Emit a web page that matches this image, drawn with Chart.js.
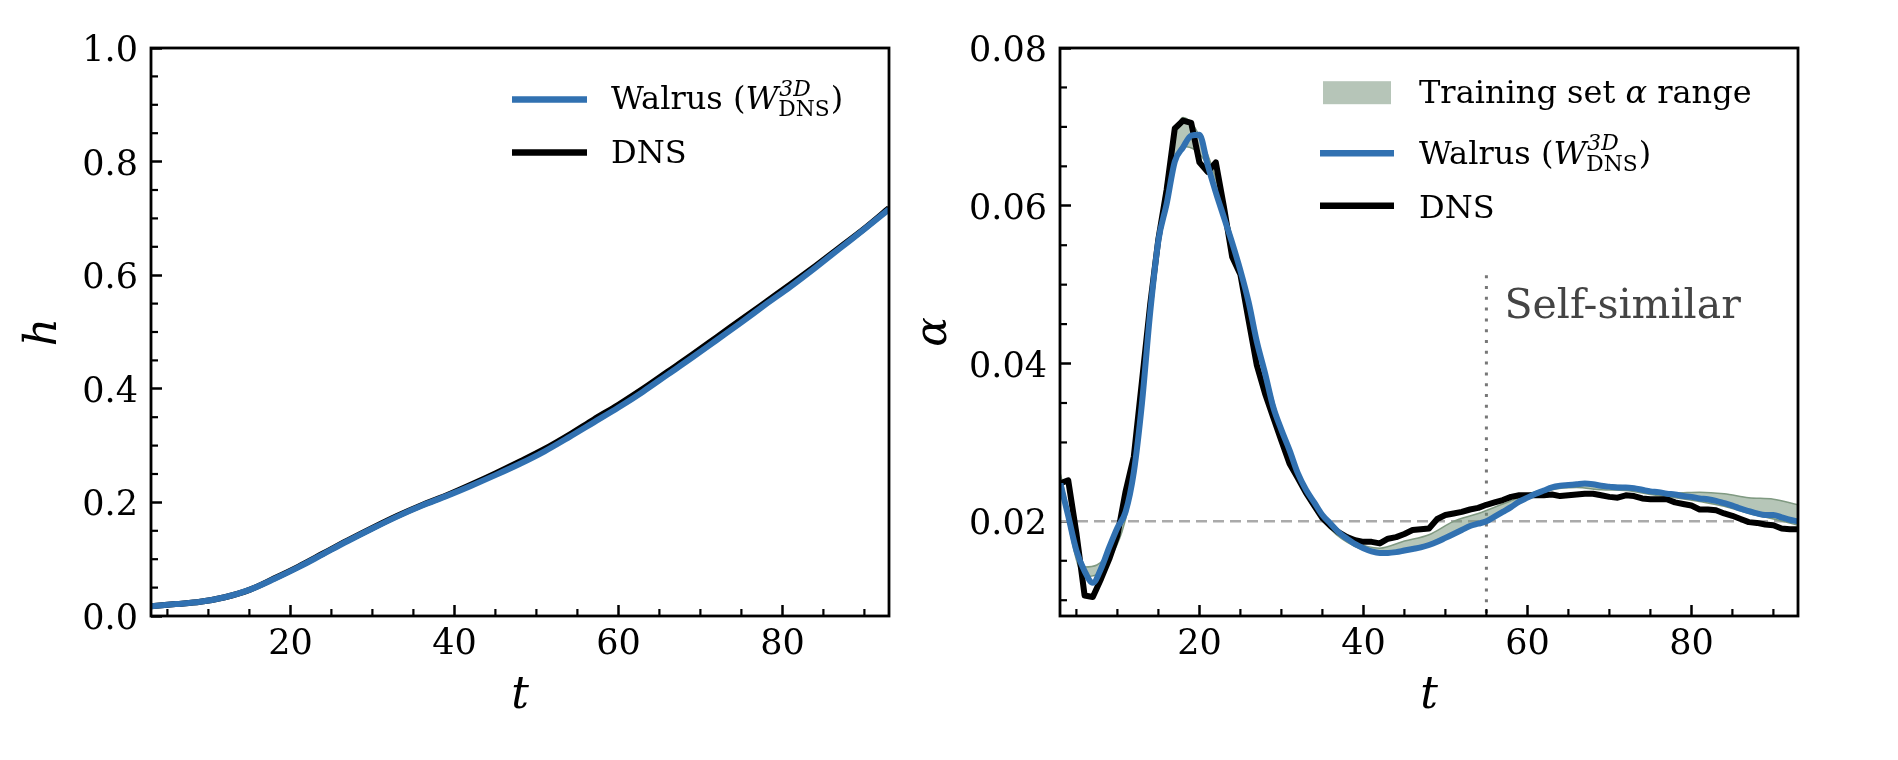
<!DOCTYPE html>
<html><head><meta charset="utf-8">
<script src="https://cdn.jsdelivr.net/npm/chart.js@4.4.1/dist/chart.umd.min.js"></script>
<style>
html,body{margin:0;padding:0;background:#fff;}
body{width:1898px;height:760px;position:relative;overflow:hidden;}
canvas{position:absolute;top:0;}
#cH{left:0;}
#cA{left:880px;}
</style></head><body>
<canvas id="cH" width="940" height="760"></canvas>
<canvas id="cA" width="1018" height="760"></canvas>
<script>
// ---------- data ----------
const tH = [3,6,9,12,15,18,21,24,27,30,33,36,39,42,45,48,51,54,57,60,63,66,69,72,75,78,81,84,87,90,93];
const hWalrus = [0.017,0.021,0.025,0.033,0.046,0.065,0.086,0.109,0.132,0.154,0.175,0.194,0.211,0.229,0.248,0.268,0.290,0.315,0.341,0.367,0.395,0.425,0.455,0.486,0.517,0.549,0.580,0.613,0.647,0.681,0.716];
const hDNS    = [0.017,0.021,0.025,0.033,0.046,0.066,0.087,0.110,0.133,0.155,0.176,0.195,0.212,0.231,0.251,0.272,0.294,0.319,0.346,0.372,0.400,0.430,0.460,0.491,0.522,0.553,0.584,0.616,0.649,0.682,0.718];

const tA = [3,4,5,6,7,8,9,10,11,12,13,14,15,16,17,18,19,20,21,22,23,24,25,26,27,28,29,30,31,32,33,34,35,36,37,38,39,40,41,42,43,44,45,46,47,48,49,50,51,52,53,54,55,56,57,58,59,60,61,62,63,64,65,66,67,68,69,70,71,72,73,74,75,76,77,78,79,80,81,82,83,84,85,86,87,88,89,90,91,92,93];
const alphaDNS = [0.0248,0.0252,0.0185,0.0106,0.0104,0.0127,0.0152,0.0182,0.0238,0.0282,0.0378,0.0475,0.0558,0.0620,0.0698,0.0708,0.0705,0.0655,0.0643,0.0655,0.0598,0.0535,0.0513,0.0455,0.0398,0.0362,0.0332,0.0302,0.0273,0.0255,0.0236,0.0220,0.0204,0.0194,0.0186,0.0180,0.0176,0.0174,0.0174,0.0172,0.0178,0.0180,0.0184,0.0189,0.0190,0.0191,0.0203,0.0208,0.0210,0.0212,0.0215,0.0217,0.0221,0.0224,0.0227,0.0231,0.0233,0.0233,0.0233,0.0233,0.0234,0.0232,0.0233,0.0234,0.0235,0.0235,0.0233,0.0231,0.0230,0.0233,0.0232,0.0229,0.0228,0.0228,0.0228,0.0224,0.0222,0.0220,0.0215,0.0215,0.0214,0.0210,0.0207,0.0203,0.0199,0.0198,0.0196,0.0195,0.0191,0.0190,0.0190];
const alphaWalrus = [0.0250,0.0207,0.0163,0.0137,0.0122,0.0140,0.0167,0.0192,0.0212,0.0262,0.0350,0.0465,0.0556,0.0602,0.0656,0.0674,0.0689,0.0690,0.0652,0.0617,0.0585,0.0553,0.0518,0.0478,0.0428,0.0388,0.0345,0.0316,0.0290,0.0261,0.0240,0.0224,0.0208,0.0197,0.0186,0.0178,0.0171,0.0166,0.0162,0.0160,0.0160,0.0161,0.0163,0.0165,0.0167,0.0170,0.0174,0.0179,0.0184,0.0189,0.0194,0.0197,0.0200,0.0206,0.0212,0.0218,0.0225,0.0230,0.0235,0.0239,0.0243,0.0245,0.0246,0.0247,0.0248,0.0247,0.0245,0.0244,0.0243,0.0243,0.0242,0.0240,0.0238,0.0237,0.0235,0.0234,0.0232,0.0231,0.0229,0.0228,0.0226,0.0223,0.0220,0.0216,0.0213,0.0210,0.0208,0.0208,0.0205,0.0202,0.0200];

const tBand = [3,6,9,12,15,18,21,24,27,30,33,36,39,42,45,48,51,54,57,60,63,66,69,72,75,78,81,84,87,90,93];
const bandLow  = [0.0245,0.0130,0.0150,0.0255,0.0550,0.0675,0.0650,0.0548,0.0420,0.0305,0.0234,0.0190,0.0168,0.0160,0.0165,0.0172,0.0186,0.0198,0.0212,0.0228,0.0240,0.0243,0.0240,0.0239,0.0234,0.0230,0.0225,0.0219,0.0210,0.0203,0.0195];
const bandHigh = [0.0262,0.0142,0.0163,0.0275,0.0565,0.0712,0.0665,0.0560,0.0435,0.0318,0.0242,0.0196,0.0174,0.0166,0.0175,0.0183,0.0200,0.0210,0.0222,0.0234,0.0244,0.0247,0.0246,0.0245,0.0240,0.0236,0.0237,0.0235,0.0230,0.0228,0.0221];

const tTicks = [20,40,60,80];
const tMinor = [5,10,15,25,30,35,45,50,55,65,70,75,85,90];
const hTicks = [0.0,0.2,0.4,0.6,0.8,1.0];
const hMinor = [0.05,0.1,0.15,0.25,0.3,0.35,0.45,0.5,0.55,0.65,0.7,0.75,0.85,0.9,0.95];
const alphaTicks = [0.02,0.04,0.06,0.08];
const alphaMinor = [0.01,0.015,0.025,0.03,0.035,0.045,0.05,0.055,0.065,0.07,0.075];
const refAlpha = 0.02;
const selfSimilarT = 55;
const selfSimilarLabel = 'Self-similar';

// ---------- helpers ----------
const FF = '"DejaVu Serif", "Liberation Serif", serif';
const BLUE = '#3171b1';
const pts = (xs, ys) => xs.map((x, i) => ({x, y: ys[i]}));

function xAxis() {
  return {
    type: 'linear', min: 3, max: 93,
    afterBuildTicks: s => { s.ticks = tTicks.map(v => ({value: v})); },
    afterFit: s => { s.height = 144; },
    grid: {display: true, drawOnChartArea: false, drawTicks: true, tickLength: -11, tickWidth: 2.5, tickColor: '#000', color: 'rgba(0,0,0,0)'},
    border: {display: false},
    ticks: {padding: 19, color: '#000', font: {family: FF, size: 35}, maxRotation: 0, autoSkip: false, callback: v => String(v)},
    title: {display: true, text: 't', color: '#000', font: {family: FF, size: 44, style: 'italic'}, padding: {top: 0, bottom: 37}}
  };
}
function yAxis(min, max, ticks, width, dec, label, titlePad) {
  return {
    type: 'linear', min, max,
    afterBuildTicks: s => { s.ticks = ticks.map(v => ({value: v})); },
    afterFit: s => { s.width = width; },
    grid: {display: true, drawOnChartArea: false, drawTicks: true, tickLength: -11, tickWidth: 2.5, tickColor: '#000', color: 'rgba(0,0,0,0)'},
    border: {display: false},
    ticks: {padding: 24, color: '#000', font: {family: FF, size: 35}, autoSkip: false, labelOffset: 4, callback: v => Number(v).toFixed(dec)},
    title: {display: true, text: label, color: '#000', font: {family: FF, size: 44, style: 'italic'}, padding: {top: titlePad, bottom: 0}}
  };
}

function drawLabel(ctx, key, x, y, fs) {
  ctx.textAlign = 'left'; ctx.textBaseline = 'alphabetic'; ctx.fillStyle = '#000';
  const R = `${fs}px ${FF}`, I = `italic ${fs}px ${FF}`;
  if (key === 'walrus') {
    ctx.font = R; ctx.fillText('Walrus (', x, y); x += ctx.measureText('Walrus (').width;
    ctx.font = I; ctx.fillText('W', x, y); x += ctx.measureText('W').width;
    const ss = fs * 0.68;
    ctx.font = `italic ${ss}px ${FF}`; ctx.fillText('3D', x + 1, y - fs * 0.42); const w1 = ctx.measureText('3D').width + 1;
    ctx.font = `${ss}px ${FF}`; ctx.fillText('DNS', x, y + fs * 0.23); const w2 = ctx.measureText('DNS').width;
    x += Math.max(w1, w2) + 1;
    ctx.font = R; ctx.fillText(')', x, y);
  } else if (key === 'band') {
    ctx.font = R; ctx.fillText('Training set ', x, y); x += ctx.measureText('Training set ').width;
    ctx.font = I; ctx.fillText('α', x, y); x += ctx.measureText('α').width;
    ctx.font = R; ctx.fillText(' range', x, y);
  } else {
    ctx.font = R; ctx.fillText('DNS', x, y);
  }
}

const mplDecor = {
  id: 'mplDecor',
  afterDraw(chart, args, o) {
    const {ctx, chartArea: a, scales: {x, y}} = chart;
    ctx.save();
    // minor ticks (inward)
    ctx.strokeStyle = '#000'; ctx.lineWidth = 2.2; ctx.lineCap = 'butt';
    o.xMinor.forEach(v => { const p = x.getPixelForValue(v); ctx.beginPath(); ctx.moveTo(p, a.bottom); ctx.lineTo(p, a.bottom - 7); ctx.stroke(); });
    o.yMinor.forEach(v => { const p = y.getPixelForValue(v); ctx.beginPath(); ctx.moveTo(a.left, p); ctx.lineTo(a.left + 7, p); ctx.stroke(); });
    // frame
    ctx.lineWidth = 2.8; ctx.strokeRect(a.left, a.top, a.right - a.left, a.bottom - a.top);
    // annotation
    if (o.note) {
      ctx.fillStyle = '#444'; ctx.font = `41px ${FF}`; ctx.textAlign = 'left'; ctx.textBaseline = 'alphabetic';
      ctx.fillText(o.note.text, x.getPixelForValue(o.note.t), y.getPixelForValue(o.note.v));
    }
    // legend
    const L = o.legend;
    L.rows.forEach(r => {
      if (r.kind === 'patch') { ctx.fillStyle = r.color; ctx.fillRect(L.x1 + 3, r.y - 11.5, L.x2 - L.x1 - 6, 23); }
      else { ctx.strokeStyle = r.color; ctx.lineWidth = 6.5; ctx.beginPath(); ctx.moveTo(L.x1, r.y); ctx.lineTo(L.x2, r.y); ctx.stroke(); }
      drawLabel(ctx, r.key, L.tx, r.base, 32);
    });
    ctx.restore();
  }
};

const common = {
  responsive: false, animation: false, devicePixelRatio: 1,
  elements: {point: {radius: 0}},
};

// ---------- left chart: h ----------
new Chart(document.getElementById('cH'), {
  type: 'line',
  data: {datasets: [
    {label: 'Walrus', data: pts(tH, hWalrus), borderColor: BLUE, borderWidth: 6, cubicInterpolationMode: 'monotone', order: 0, clip: 0, borderJoinStyle: 'round'},
    {label: 'DNS', data: pts(tH, hDNS), borderColor: '#000', borderWidth: 6, cubicInterpolationMode: 'monotone', order: 1, clip: 0, borderJoinStyle: 'round'}
  ]},
  options: Object.assign({}, common, {
    layout: {padding: {top: 48, right: 51, left: 0, bottom: 0}},
    scales: {x: xAxis(), y: yAxis(0, 1, hTicks, 151, 1, 'h', 18.6)},
    plugins: {legend: {display: false}, tooltip: {enabled: false},
      mplDecor: {xMinor: tMinor, yMinor: hMinor,
        legend: {x1: 512, x2: 587, tx: 611, rows: [
          {kind: 'line', color: BLUE, y: 99.5, base: 109, key: 'walrus'},
          {kind: 'line', color: '#000', y: 152.5, base: 163.3, key: 'dns'}]}}}
  }),
  plugins: [mplDecor]
});

// ---------- right chart: alpha ----------
new Chart(document.getElementById('cA'), {
  type: 'line',
  data: {datasets: [
    {label: 'Walrus', data: pts(tA, alphaWalrus), borderColor: BLUE, borderWidth: 6, cubicInterpolationMode: 'monotone', order: 0, clip: 0, borderJoinStyle: 'round'},
    {label: 'DNS', data: pts(tA, alphaDNS), borderColor: '#000', borderWidth: 6, tension: 0, order: 1, clip: 0, borderJoinStyle: 'round'},
    {label: 'bandLow', data: pts(tBand, bandLow), borderColor: '#809a82', borderWidth: 1.5, cubicInterpolationMode: 'monotone', fill: false, order: 3, clip: 0},
    {label: 'Training set α range', data: pts(tBand, bandHigh), borderColor: '#809a82', borderWidth: 1.5, cubicInterpolationMode: 'monotone', fill: '-1', backgroundColor: 'rgba(110,142,114,0.5)', order: 2, clip: 0},
    {label: 'ref', data: [{x: 3, y: refAlpha}, {x: 93, y: refAlpha}], borderColor: '#aaaaaa', borderWidth: 2.5, borderDash: [11, 6], order: 5},
    {label: 'selfsim', data: [{x: selfSimilarT, y: 0.0512}, {x: selfSimilarT, y: 0.008}], borderColor: '#777777', borderWidth: 3, borderDash: [3, 7.8], order: 6}
  ]},
  options: Object.assign({}, common, {
    layout: {padding: {top: 48, right: 100, left: 0, bottom: 0}},
    scales: {x: xAxis(), y: yAxis(0.008, 0.08, alphaTicks, 180, 2, 'α', 28.6)},
    plugins: {legend: {display: false}, tooltip: {enabled: false},
      mplDecor: {xMinor: tMinor, yMinor: alphaMinor,
        note: {text: selfSimilarLabel, t: 57.2, v: 0.0458},
        legend: {x1: 440, x2: 514, tx: 539, rows: [
          {kind: 'patch', color: '#b6c5b8', y: 92.7, base: 103, key: 'band'},
          {kind: 'line', color: BLUE, y: 153.3, base: 163.5, key: 'walrus'},
          {kind: 'line', color: '#000', y: 205.7, base: 217.5, key: 'dns'}]}}}
  }),
  plugins: [mplDecor]
});
</script>
</body></html>
